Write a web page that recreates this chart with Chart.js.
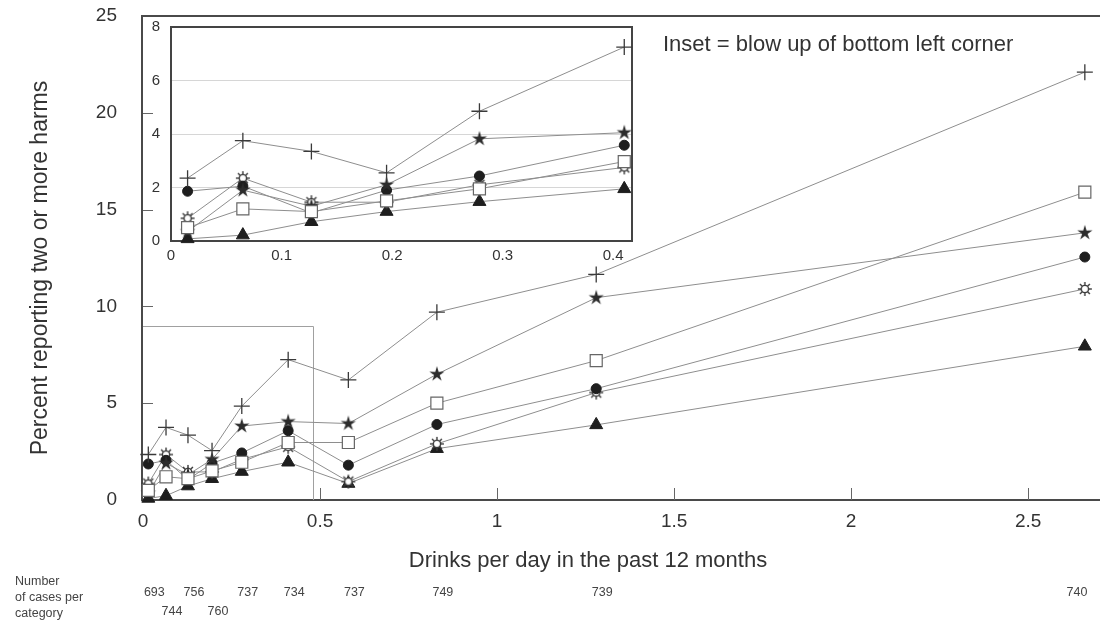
<!DOCTYPE html>
<html>
<head>
<meta charset="utf-8">
<script src="https://cdn.jsdelivr.net/npm/chart.js@4.4.1/dist/chart.umd.min.js"></script>
<style>
  html, body { margin: 0; padding: 0; background: #fff; }
  #wrap { position: relative; width: 1100px; height: 628px; overflow: hidden; }
  #main { position: absolute; left: 0; top: 0; }
  #inset { position: absolute; left: 130px; top: 10px; }
</style>
</head>
<body>
<div id="wrap">
  <canvas id="main" width="1100" height="628" style="width:1100px;height:628px"></canvas>
  <canvas id="inset" width="510" height="260" style="width:510px;height:260px"></canvas>
</div>
<script>
// Drinks per day (category midpoints) and cases in each category
const drinksPerDay = [0.015, 0.065, 0.127, 0.195, 0.279, 0.41, 0.58, 0.83, 1.28, 2.66];
const casesPerCategory = [693, 744, 756, 760, 737, 734, 737, 749, 739, 740];

// Percent reporting two or more harms, one series per marker
const seriesCross    = [2.35, 3.75, 3.35, 2.55, 4.85, 7.25, 6.2, 9.7, 11.65, 22.1];
const seriesSquare   = [0.5, 1.2, 1.1, 1.5, 1.95, 2.97, 2.97, 5.0, 7.2, 15.9];
const seriesStar     = [0.35, 1.9, 1.3, 2.1, 3.82, 4.05, 3.95, 6.5, 10.45, 13.8];
const seriesDot      = [1.86, 2.05, 1.05, 1.9, 2.43, 3.58, 1.8, 3.9, 5.75, 12.55];
const seriesSun      = [0.85, 2.35, 1.45, 1.45, 2.1, 2.75, 0.95, 2.9, 5.55, 10.9];
const seriesTriangle = [0.08, 0.22, 0.72, 1.1, 1.47, 1.95, 0.85, 2.65, 3.88, 7.94];

// Axis ranges
const mainXMax = 2.7, mainYMax = 25;
const insetXMax = 0.417, insetYMax = 8;
// Region of the main plot that the inset enlarges
const zoomBoxX = 0.48, zoomBoxY = 9;

const FONT = '"Liberation Sans", Arial, Helvetica, sans-serif';
const LINE = '#8e8e8e';
const plainNumber = v => String(Math.round(v * 1000) / 1000);

// fixed axis box sizes; tick labels must not push the plot area inward
function fixedSize(size) {
  return s => {
    if (s.isHorizontal()) s.height = size; else s.width = size;
    s.paddingTop = s.paddingBottom = s.paddingLeft = s.paddingRight = 0;
  };
}

function makeStar(r) {
  const s = Math.ceil(r * 2 + 2);
  const c = document.createElement('canvas');
  c.width = c.height = s;
  const g = c.getContext('2d');
  g.translate(s / 2, s / 2);
  g.beginPath();
  for (let i = 0; i < 10; i++) {
    const rr = i % 2 ? r * 0.36 : r;
    const a = -Math.PI / 2 + i * Math.PI / 5;
    g.lineTo(rr * Math.cos(a), rr * Math.sin(a));
  }
  g.closePath();
  g.fillStyle = '#2c2c2c';
  g.fill();
  return c;
}

function makeSun(r) {
  const s = Math.ceil(r * 2 + 2);
  const c = document.createElement('canvas');
  c.width = c.height = s;
  const g = c.getContext('2d');
  g.translate(s / 2, s / 2);
  g.strokeStyle = '#3a3a3a';
  g.lineWidth = 1.4;
  for (let i = 0; i < 8; i++) {
    const a = i * Math.PI / 4;
    g.beginPath();
    g.moveTo(r * 0.5 * Math.cos(a), r * 0.5 * Math.sin(a));
    g.lineTo(r * Math.cos(a), r * Math.sin(a));
    g.stroke();
  }
  g.beginPath();
  g.arc(0, 0, r * 0.52, 0, Math.PI * 2);
  g.fillStyle = '#fff';
  g.fill();
  g.stroke();
  return c;
}

const starImg = makeStar(8);
const sunImg = makeSun(7);

function buildDatasets(limit) {
  const pts = vals => drinksPerDay
    .map((x, i) => ({ x, y: vals[i] }))
    .filter(p => p.x <= limit);
  const base = { borderColor: LINE, borderWidth: 1, showLine: true, clip: false, pointHoverRadius: 0 };
  return [
    { ...base, label: '+', data: pts(seriesCross), pointStyle: 'cross', pointRadius: 8,
      pointBorderColor: '#3a3a3a', pointBorderWidth: 1.3 },
    { ...base, label: 'square', data: pts(seriesSquare), pointStyle: 'rect', pointRadius: 8.5,
      pointBackgroundColor: '#fff', pointBorderColor: '#666', pointBorderWidth: 1.2 },
    { ...base, label: 'star', data: pts(seriesStar), pointStyle: starImg, pointRadius: 8 },
    { ...base, label: 'dot', data: pts(seriesDot), pointStyle: 'circle', pointRadius: 5,
      pointBackgroundColor: '#1e1e1e', pointBorderColor: '#1e1e1e', pointBorderWidth: 1 },
    { ...base, label: 'sun', data: pts(seriesSun), pointStyle: sunImg, pointRadius: 7 },
    { ...base, label: 'triangle', data: pts(seriesTriangle), pointStyle: 'triangle', pointRadius: 7.5,
      pointBackgroundColor: '#1e1e1e', pointBorderColor: '#1e1e1e', pointBorderWidth: 1 }
  ];
}

const mainDecor = {
  id: 'mainDecor',
  beforeDatasetsDraw(chart) {
    const { ctx, chartArea: a, scales: { x, y } } = chart;
    ctx.save();
    // plot frame: top edge, left axis, bottom axis
    ctx.strokeStyle = '#4a4a4a';
    ctx.lineWidth = 2;
    ctx.beginPath();
    ctx.moveTo(a.right + 2, a.top);
    ctx.lineTo(a.left - 1, a.top);
    ctx.lineTo(a.left - 1, a.bottom);
    ctx.lineTo(a.right + 2, a.bottom);
    ctx.stroke();
    // inward tick marks
    ctx.strokeStyle = '#666';
    ctx.lineWidth = 1;
    ctx.beginPath();
    y.ticks.forEach(t => {
      if (t.value > y.min && t.value < y.max) {
        const py = Math.round(y.getPixelForValue(t.value)) + 0.5;
        ctx.moveTo(a.left, py);
        ctx.lineTo(a.left + 10, py);
      }
    });
    x.ticks.forEach(t => {
      if (t.value > x.min) {
        const px = Math.round(x.getPixelForValue(t.value)) + 0.5;
        ctx.moveTo(px, a.bottom);
        ctx.lineTo(px, a.bottom - 12);
      }
    });
    ctx.stroke();
    // outline of the enlarged corner
    ctx.strokeStyle = '#a0a0a0';
    ctx.beginPath();
    const rx = Math.round(x.getPixelForValue(zoomBoxX)) + 0.5;
    const ry = Math.round(y.getPixelForValue(zoomBoxY)) + 0.5;
    ctx.moveTo(a.left, ry);
    ctx.lineTo(rx, ry);
    ctx.lineTo(rx, a.bottom);
    ctx.stroke();
    ctx.restore();
  },
  afterDraw(chart) {
    const { ctx, chartArea: a, scales: { x } } = chart;
    ctx.save();
    ctx.fillStyle = '#333';
    // y axis title
    ctx.font = '23px ' + FONT;
    ctx.textAlign = 'center';
    ctx.textBaseline = 'middle';
    ctx.save();
    ctx.translate(41, 268);
    ctx.rotate(-Math.PI / 2);
    ctx.fillText('Percent reporting two or more harms', 0, 0);
    ctx.restore();
    // x axis title
    ctx.font = '22px ' + FONT;
    ctx.fillText('Drinks per day in the past 12 months', 588, 561);
    // note about the inset
    ctx.textAlign = 'left';
    ctx.fillText('Inset = blow up of bottom left corner', 663, 45);
    // cases per category
    ctx.font = '12.5px ' + FONT;
    ctx.fillStyle = '#444';
    ctx.fillText('Number', 15, 582);
    ctx.fillText('of cases per', 15, 598);
    ctx.fillText('category', 15, 614);
    ctx.textAlign = 'center';
    let lastTop = -1e9;
    drinksPerDay.forEach((v, i) => {
      const px = Math.min(x.getPixelForValue(v) + 6, a.right - 22);
      let rowY = 593;
      if (px - lastTop < 28) {
        rowY = 612;
      } else {
        lastTop = px;
      }
      ctx.fillText(String(casesPerCategory[i]), px, rowY);
    });
    ctx.restore();
  }
};

const insetDecor = {
  id: 'insetDecor',
  beforeDraw(chart) {
    const { ctx, chartArea: a } = chart;
    ctx.save();
    ctx.fillStyle = '#fff';
    ctx.fillRect(a.left - 1, a.top - 1, a.right - a.left + 2, a.bottom - a.top + 2);
    ctx.restore();
  },
  beforeDatasetsDraw(chart) {
    const { ctx, chartArea: a } = chart;
    ctx.save();
    ctx.strokeStyle = '#444';
    ctx.lineWidth = 2;
    ctx.strokeRect(a.left, a.top, a.right - a.left, a.bottom - a.top);
    ctx.restore();
  }
};

new Chart(document.getElementById('main'), {
  type: 'scatter',
  data: { datasets: buildDatasets(Infinity) },
  options: {
    responsive: false,
    animation: false,
    layout: { autoPadding: false, padding: { top: 16, right: 1, left: 0, bottom: 0 } },
    plugins: { legend: { display: false }, tooltip: { enabled: false } },
    events: [],
    scales: {
      x: {
        type: 'linear', min: 0, max: mainXMax,
        afterFit: fixedSize(128),
        grid: { display: false, drawTicks: false },
        border: { display: false },
        ticks: { stepSize: 0.5, includeBounds: false, padding: 10, color: '#333',
                 font: { family: FONT, size: 19 }, maxRotation: 0, autoSkip: false,
                 callback: plainNumber }
      },
      y: {
        type: 'linear', min: 0, max: mainYMax,
        afterFit: fixedSize(143),
        grid: { display: false, drawTicks: false },
        border: { display: false },
        ticks: { stepSize: 5, padding: 26, color: '#333', font: { family: FONT, size: 19 },
                 callback: plainNumber }
      }
    }
  },
  plugins: [mainDecor]
});

new Chart(document.getElementById('inset'), {
  type: 'scatter',
  data: { datasets: buildDatasets(insetXMax) },
  options: {
    responsive: false,
    animation: false,
    layout: { autoPadding: false, padding: { top: 17, right: 8, left: 0, bottom: 0 } },
    plugins: { legend: { display: false }, tooltip: { enabled: false } },
    events: [],
    scales: {
      x: {
        type: 'linear', min: 0, max: insetXMax,
        afterFit: fixedSize(29),
        grid: { display: false, drawTicks: false },
        border: { display: false },
        ticks: { stepSize: 0.1, includeBounds: false, padding: 6, color: '#333',
                 font: { family: FONT, size: 15 }, maxRotation: 0, autoSkip: false,
                 callback: plainNumber }
      },
      y: {
        type: 'linear', min: 0, max: insetYMax,
        afterFit: fixedSize(41),
        grid: { color: '#d6d6d6', lineWidth: 1, drawTicks: false },
        border: { display: false },
        ticks: { stepSize: 2, padding: 11, color: '#333', font: { family: FONT, size: 15 },
                 callback: plainNumber }
      }
    }
  },
  plugins: [insetDecor]
});
</script>
</body>
</html>
